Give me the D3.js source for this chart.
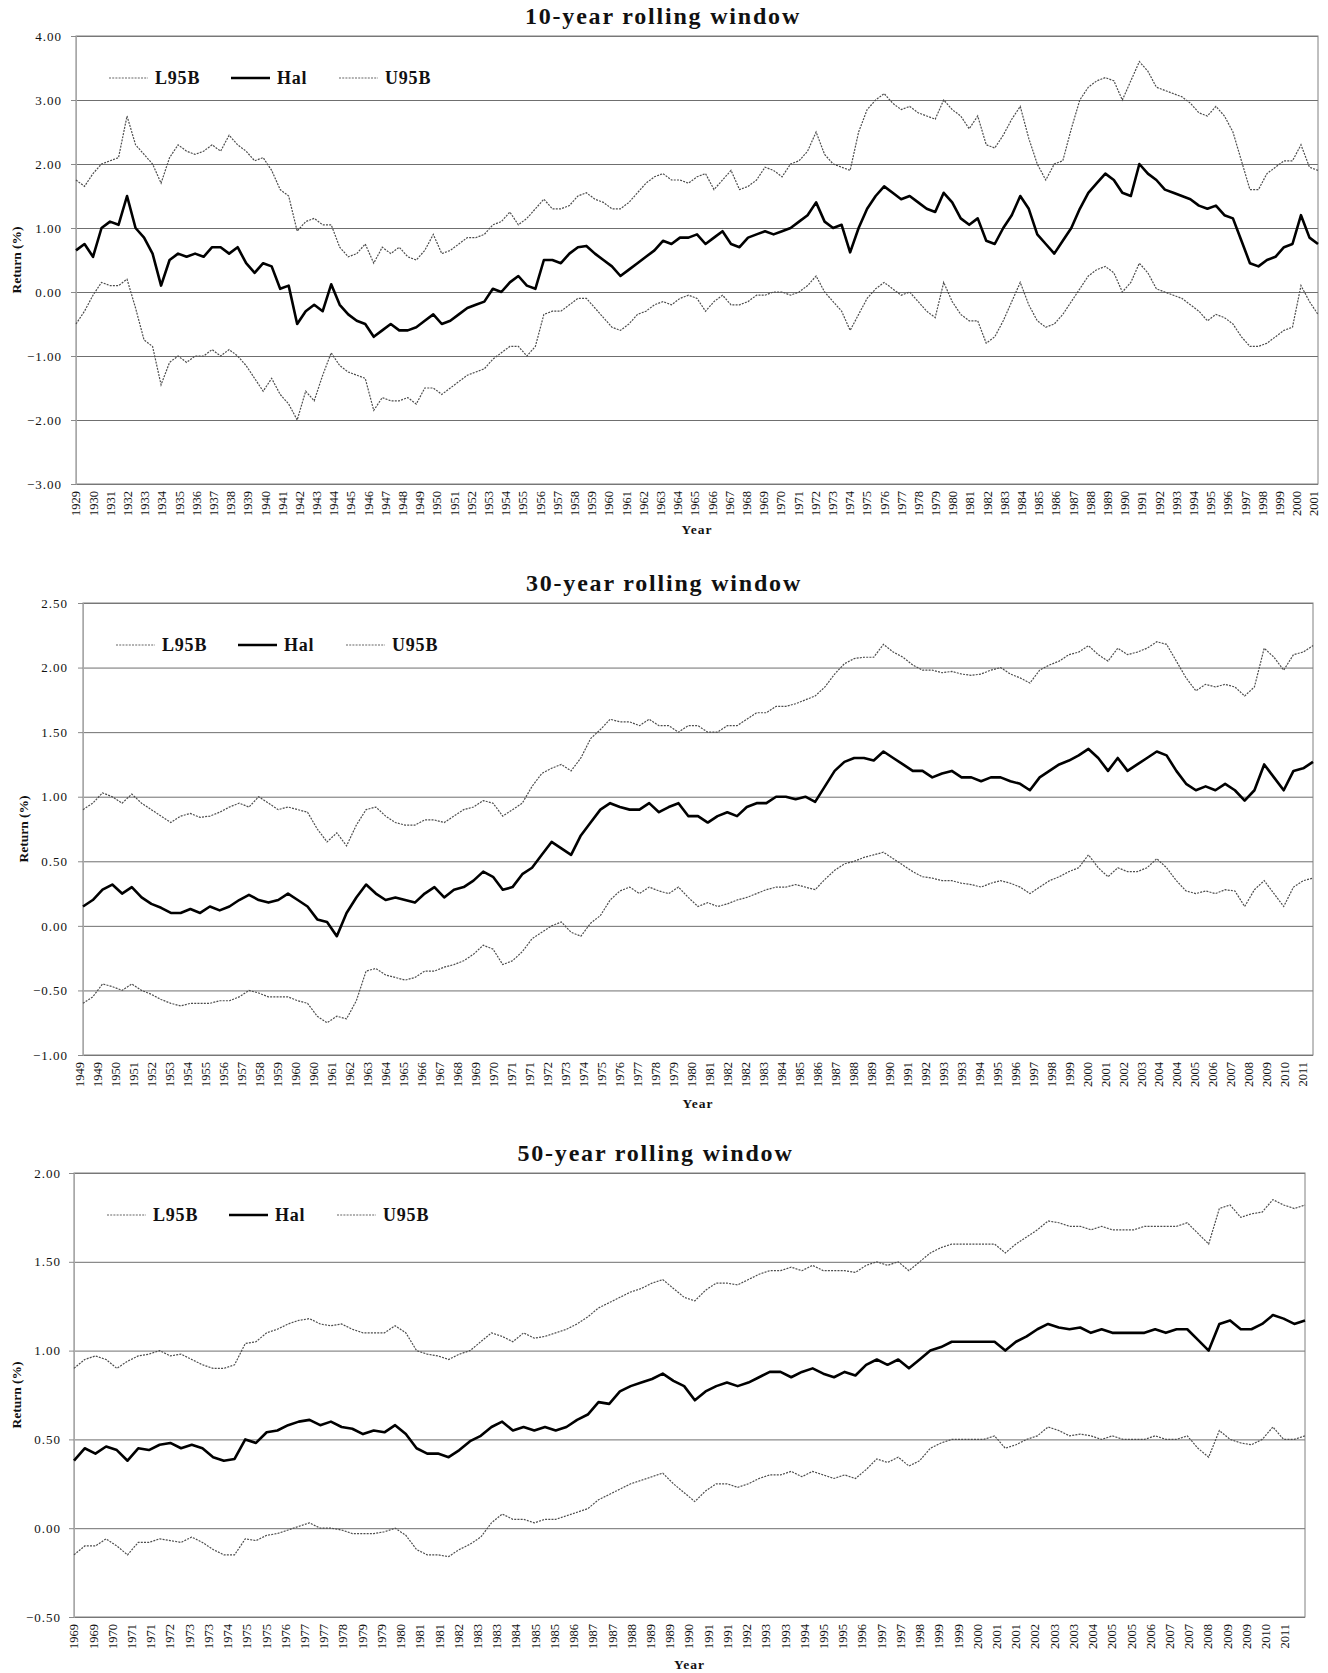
<!DOCTYPE html>
<html>
<head>
<meta charset="utf-8">
<script src="https://cdn.jsdelivr.net/npm/d3@7"></script>
<style>
  body { margin: 0; background: #fff; }
  svg { display: block; }
  text { font-family: "Liberation Serif", "Times New Roman", serif; fill: #111; }
</style>
</head>
<body>
<div id="chart"></div>
<script>
//----------------------------DATA------------------------------//
const p1Labels = ["1929","1930","1931","1932","1933","1934","1935","1936","1937","1938",
  "1939","1940","1941","1942","1943","1944","1945","1946","1947","1948","1949","1950",
  "1951","1952","1953","1954","1955","1956","1957","1958","1959","1960","1961","1962",
  "1963","1964","1965","1966","1967","1968","1969","1970","1971","1972","1973","1974",
  "1975","1976","1977","1978","1979","1980","1981","1982","1983","1984","1985","1986",
  "1987","1988","1989","1990","1991","1992","1993","1994","1995","1996","1997","1998",
  "1999","2000","2001"];

const p1Hal = [0.65,0.75,0.55,1.0,1.1,1.05,1.5,1.0,0.85,0.6,
  0.1,0.5,0.6,0.55,0.6,0.55,0.7,0.7,0.6,0.7,
  0.45,0.3,0.45,0.4,0.05,0.1,-0.5,-0.3,-0.2,-0.3,
  0.12,-0.2,-0.35,-0.45,-0.5,-0.7,-0.6,-0.5,-0.6,-0.6,
  -0.55,-0.45,-0.35,-0.5,-0.45,-0.35,-0.25,-0.2,-0.15,0.05,
  0.0,0.15,0.25,0.1,0.05,0.5,0.5,0.45,0.6,0.7,
  0.72,0.6,0.5,0.4,0.25,0.35,0.45,0.55,0.65,0.8,
  0.75,0.85,0.85,0.9,0.75,0.85,0.95,0.75,0.7,0.85,
  0.9,0.95,0.9,0.95,1.0,1.1,1.2,1.4,1.1,1.0,
  1.05,0.62,1.0,1.3,1.5,1.65,1.55,1.45,1.5,1.4,
  1.3,1.25,1.55,1.4,1.15,1.05,1.15,0.8,0.75,1.0,
  1.2,1.5,1.3,0.9,0.75,0.6,0.8,1.0,1.3,1.55,
  1.7,1.85,1.75,1.55,1.5,2.0,1.85,1.75,1.6,1.55,
  1.5,1.45,1.35,1.3,1.35,1.2,1.15,0.8,0.45,0.4,
  0.5,0.55,0.7,0.75,1.2,0.85,0.75];

const p1U95 = [1.75,1.65,1.85,2.0,2.05,2.1,2.75,2.3,2.15,2.0,
  1.7,2.1,2.3,2.2,2.15,2.2,2.3,2.2,2.45,2.3,
  2.2,2.05,2.1,1.9,1.6,1.5,0.95,1.1,1.15,1.05,
  1.05,0.7,0.55,0.6,0.75,0.45,0.7,0.6,0.7,0.55,
  0.5,0.65,0.9,0.6,0.65,0.75,0.85,0.85,0.9,1.05,
  1.1,1.25,1.05,1.15,1.3,1.45,1.3,1.3,1.35,1.5,
  1.55,1.45,1.4,1.3,1.3,1.4,1.55,1.7,1.8,1.85,
  1.75,1.75,1.7,1.8,1.85,1.6,1.75,1.9,1.6,1.65,
  1.75,1.95,1.9,1.8,2.0,2.05,2.2,2.5,2.15,2.0,
  1.95,1.9,2.5,2.85,3.0,3.1,2.95,2.85,2.9,2.8,
  2.75,2.7,3.0,2.85,2.75,2.55,2.75,2.3,2.25,2.45,
  2.7,2.9,2.4,2.0,1.75,2.0,2.05,2.55,3.0,3.2,
  3.3,3.35,3.3,3.0,3.3,3.6,3.45,3.2,3.15,3.1,
  3.05,2.95,2.8,2.75,2.9,2.75,2.5,2.05,1.6,1.6,
  1.85,1.95,2.05,2.05,2.3,1.95,1.9];

const p1L95 = [-0.5,-0.3,-0.05,0.15,0.1,0.1,0.2,-0.25,-0.75,-0.85,
  -1.45,-1.1,-1.0,-1.1,-1.0,-1.0,-0.9,-1.0,-0.9,-1.0,
  -1.15,-1.35,-1.55,-1.35,-1.6,-1.75,-2.0,-1.55,-1.7,-1.3,
  -0.95,-1.15,-1.25,-1.3,-1.35,-1.85,-1.65,-1.7,-1.7,-1.65,
  -1.75,-1.5,-1.5,-1.6,-1.5,-1.4,-1.3,-1.25,-1.2,-1.05,
  -0.95,-0.85,-0.85,-1.0,-0.85,-0.35,-0.3,-0.3,-0.2,-0.1,
  -0.1,-0.25,-0.4,-0.55,-0.6,-0.5,-0.35,-0.3,-0.2,-0.15,
  -0.2,-0.1,-0.05,-0.1,-0.3,-0.15,-0.05,-0.2,-0.2,-0.15,
  -0.05,-0.05,0.0,0.0,-0.05,0.0,0.1,0.25,0.0,-0.15,
  -0.3,-0.6,-0.35,-0.1,0.05,0.15,0.05,-0.05,0.0,-0.15,
  -0.3,-0.4,0.15,-0.15,-0.35,-0.45,-0.45,-0.8,-0.7,-0.45,
  -0.15,0.15,-0.2,-0.45,-0.55,-0.5,-0.35,-0.15,0.05,0.25,
  0.35,0.4,0.3,0.0,0.15,0.45,0.3,0.05,0.0,-0.05,
  -0.1,-0.2,-0.3,-0.45,-0.35,-0.4,-0.5,-0.7,-0.85,-0.85,
  -0.8,-0.7,-0.6,-0.55,0.1,-0.15,-0.35];

const p2Labels = ["1949","1949","1950","1951","1952","1953","1954","1955","1956","1957",
  "1958","1959","1960","1960","1961","1962","1963","1964","1965","1966","1967","1968",
  "1969","1970","1971","1971","1972","1973","1974","1975","1976","1977","1978","1979",
  "1980","1981","1982","1982","1983","1984","1985","1986","1987","1988","1989","1990",
  "1991","1992","1993","1993","1994","1995","1996","1997","1998","1999","2000","2001",
  "2002","2003","2004","2004","2005","2006","2007","2008","2009","2010","2011"];

const p2Hal = [0.15,0.2,0.28,0.32,0.25,0.3,0.22,0.17,0.14,0.1,
  0.1,0.13,0.1,0.15,0.12,0.15,0.2,0.24,0.2,0.18,
  0.2,0.25,0.2,0.15,0.05,0.03,-0.08,0.1,0.22,0.32,
  0.25,0.2,0.22,0.2,0.18,0.25,0.3,0.22,0.28,0.3,
  0.35,0.42,0.38,0.28,0.3,0.4,0.45,0.55,0.65,0.6,
  0.55,0.7,0.8,0.9,0.95,0.92,0.9,0.9,0.95,0.88,
  0.92,0.95,0.85,0.85,0.8,0.85,0.88,0.85,0.92,0.95,
  0.95,1.0,1.0,0.98,1.0,0.96,1.08,1.2,1.27,1.3,
  1.3,1.28,1.35,1.3,1.25,1.2,1.2,1.15,1.18,1.2,
  1.15,1.15,1.12,1.15,1.15,1.12,1.1,1.05,1.15,1.2,
  1.25,1.28,1.32,1.37,1.3,1.2,1.3,1.2,1.25,1.3,
  1.35,1.32,1.2,1.1,1.05,1.08,1.05,1.1,1.05,0.97,
  1.05,1.25,1.15,1.05,1.2,1.22,1.27];

const p2U95 = [0.9,0.95,1.03,1.0,0.95,1.02,0.95,0.9,0.85,0.8,
  0.85,0.87,0.84,0.85,0.88,0.92,0.95,0.92,1.0,0.95,
  0.9,0.92,0.9,0.88,0.75,0.65,0.72,0.62,0.78,0.9,
  0.92,0.85,0.8,0.78,0.78,0.82,0.82,0.8,0.85,0.9,
  0.92,0.97,0.95,0.85,0.9,0.95,1.08,1.18,1.22,1.25,
  1.2,1.3,1.45,1.52,1.6,1.58,1.58,1.55,1.6,1.55,
  1.55,1.5,1.55,1.55,1.5,1.5,1.55,1.55,1.6,1.65,
  1.65,1.7,1.7,1.72,1.75,1.78,1.85,1.95,2.03,2.07,
  2.08,2.08,2.18,2.12,2.08,2.02,1.98,1.98,1.96,1.97,
  1.95,1.94,1.95,1.98,2.0,1.95,1.92,1.88,1.98,2.02,
  2.05,2.1,2.12,2.17,2.1,2.05,2.15,2.1,2.12,2.15,
  2.2,2.18,2.05,1.92,1.82,1.87,1.85,1.87,1.85,1.78,
  1.85,2.15,2.08,1.98,2.1,2.12,2.17];

const p2L95 = [-0.6,-0.55,-0.45,-0.47,-0.5,-0.45,-0.5,-0.53,-0.57,-0.6,
  -0.62,-0.6,-0.6,-0.6,-0.58,-0.58,-0.55,-0.5,-0.52,-0.55,
  -0.55,-0.55,-0.58,-0.6,-0.7,-0.75,-0.7,-0.72,-0.58,-0.35,
  -0.33,-0.38,-0.4,-0.42,-0.4,-0.35,-0.35,-0.32,-0.3,-0.27,
  -0.22,-0.15,-0.18,-0.3,-0.27,-0.2,-0.1,-0.05,0.0,0.03,
  -0.05,-0.08,0.02,0.08,0.2,0.27,0.3,0.25,0.3,0.27,
  0.25,0.3,0.22,0.15,0.18,0.15,0.17,0.2,0.22,0.25,
  0.28,0.3,0.3,0.32,0.3,0.28,0.36,0.43,0.48,0.5,
  0.53,0.55,0.57,0.52,0.47,0.42,0.38,0.37,0.35,0.35,
  0.33,0.32,0.3,0.33,0.35,0.33,0.3,0.25,0.3,0.35,
  0.38,0.42,0.45,0.55,0.45,0.38,0.45,0.42,0.42,0.45,
  0.52,0.45,0.35,0.27,0.25,0.27,0.25,0.28,0.27,0.15,
  0.28,0.35,0.25,0.15,0.3,0.35,0.37];

const p3Labels = ["1969","1969","1970","1971","1971","1972","1973","1973","1974","1975",
  "1975","1976","1977","1977","1978","1979","1979","1980","1981","1981","1982","1983",
  "1983","1984","1985","1985","1986","1987","1987","1988","1989","1989","1990","1991",
  "1991","1992","1993","1993","1994","1995","1995","1996","1997","1997","1998","1999",
  "1999","2000","2001","2001","2002","2003","2003","2004","2005","2005","2006","2007",
  "2007","2008","2009","2009","2010","2011"];

const p3Hal = [0.38,0.45,0.42,0.46,0.44,0.38,0.45,0.44,0.47,0.48,
  0.45,0.47,0.45,0.4,0.38,0.39,0.5,0.48,0.54,0.55,
  0.58,0.6,0.61,0.58,0.6,0.57,0.56,0.53,0.55,0.54,
  0.58,0.53,0.45,0.42,0.42,0.4,0.44,0.49,0.52,0.57,
  0.6,0.55,0.57,0.55,0.57,0.55,0.57,0.61,0.64,0.71,
  0.7,0.77,0.8,0.82,0.84,0.87,0.83,0.8,0.72,0.77,
  0.8,0.82,0.8,0.82,0.85,0.88,0.88,0.85,0.88,0.9,
  0.87,0.85,0.88,0.86,0.92,0.95,0.92,0.95,0.9,0.95,
  1.0,1.02,1.05,1.05,1.05,1.05,1.05,1.0,1.05,1.08,
  1.12,1.15,1.13,1.12,1.13,1.1,1.12,1.1,1.1,1.1,
  1.1,1.12,1.1,1.12,1.12,1.06,1.0,1.15,1.17,1.12,
  1.12,1.15,1.2,1.18,1.15,1.17];

const p3U95 = [0.9,0.95,0.97,0.95,0.9,0.94,0.97,0.98,1.0,0.97,
  0.98,0.95,0.92,0.9,0.9,0.92,1.04,1.05,1.1,1.12,
  1.15,1.17,1.18,1.15,1.14,1.15,1.12,1.1,1.1,1.1,
  1.14,1.1,1.0,0.98,0.97,0.95,0.98,1.0,1.05,1.1,
  1.08,1.05,1.1,1.07,1.08,1.1,1.12,1.15,1.19,1.24,
  1.27,1.3,1.33,1.35,1.38,1.4,1.35,1.3,1.28,1.34,
  1.38,1.38,1.37,1.4,1.43,1.45,1.45,1.47,1.45,1.48,
  1.45,1.45,1.45,1.44,1.48,1.5,1.48,1.5,1.45,1.5,
  1.55,1.58,1.6,1.6,1.6,1.6,1.6,1.55,1.6,1.64,
  1.68,1.73,1.72,1.7,1.7,1.68,1.7,1.68,1.68,1.68,
  1.7,1.7,1.7,1.7,1.72,1.66,1.6,1.8,1.82,1.75,
  1.77,1.78,1.85,1.82,1.8,1.82];

const p3L95 = [-0.15,-0.1,-0.1,-0.06,-0.1,-0.15,-0.08,-0.08,-0.06,-0.07,
  -0.08,-0.05,-0.08,-0.12,-0.15,-0.15,-0.06,-0.07,-0.04,-0.03,
  -0.01,0.01,0.03,0.0,0.0,-0.01,-0.03,-0.03,-0.03,-0.02,
  0.0,-0.04,-0.12,-0.15,-0.15,-0.16,-0.12,-0.09,-0.05,0.03,
  0.08,0.05,0.05,0.03,0.05,0.05,0.07,0.09,0.11,0.16,
  0.19,0.22,0.25,0.27,0.29,0.31,0.25,0.2,0.15,0.21,
  0.25,0.25,0.23,0.25,0.28,0.3,0.3,0.32,0.29,0.32,
  0.3,0.28,0.3,0.28,0.33,0.39,0.37,0.4,0.35,0.38,
  0.45,0.48,0.5,0.5,0.5,0.5,0.52,0.45,0.47,0.5,
  0.52,0.57,0.55,0.52,0.53,0.52,0.5,0.52,0.5,0.5,
  0.5,0.52,0.5,0.5,0.52,0.45,0.4,0.55,0.5,0.48,
  0.47,0.5,0.57,0.5,0.5,0.52];

const p1Ticks = [4, 3, 2, 1, 0, -1, -2, -3];
const p2Ticks = [2.5, 2, 1.5, 1, 0.5, 0, -0.5, -1];
const p3Ticks = [2, 1.5, 1, 0.5, 0, -0.5];

const seriesNames = ["L95B", "Hal", "U95B"];

//----------------------------SVG-------------------------------//
const W = 1328, H = 1673;
const svg = d3.select("#chart").append("svg")
    .attr("width", W)
    .attr("height", H);

const fmt = d3.format(".2f");

function drawPanel(cfg) {
    const w = cfg.right - cfg.left;
    const h = cfg.bottom - cfg.top;
    const g = svg.append("g");

    const y = d3.scaleLinear()
        .domain([d3.min(cfg.ticks), d3.max(cfg.ticks)])
        .range([cfg.bottom, cfg.top]);
    const x = d3.scaleLinear()
        .domain([0, cfg.hal.length - 1])
        .range([cfg.left, cfg.right]);
    const xl = d3.scalePoint()
        .domain(d3.range(cfg.labels.length))
        .range([cfg.left + cfg.labOff[0], cfg.right + cfg.labOff[1]]);

    //---grid
    g.append("g")
        .attr("transform", "translate(" + cfg.left + ",0)")
        .call(d3.axisLeft(y).tickValues(cfg.ticks).tickSize(-w).tickFormat(""))
        .call(s => s.select(".domain").remove())
        .selectAll("line").attr("stroke", "#6f6f6f");

    //---frame
    g.append("rect")
        .attr("x", cfg.left).attr("y", cfg.top)
        .attr("width", w).attr("height", h)
        .attr("fill", "none").attr("stroke", "#808080");

    //---y axis
    const ya = g.append("g")
        .attr("transform", "translate(" + cfg.left + ",0)")
        .call(d3.axisLeft(y).tickValues(cfg.ticks).tickSize(5).tickPadding(cfg.pad).tickFormat(fmt));
    ya.select(".domain").attr("stroke", "#a8a8a8");
    ya.selectAll("line").attr("stroke", "#8a8a8a");
    ya.selectAll("text")
        .style("font-family", "'Liberation Serif', serif")
        .style("font-size", "13px")
        .style("letter-spacing", "1px")
        .attr("fill", "#222");

    //---x labels
    g.selectAll(".xl")
        .data(cfg.labels)
        .enter()
        .append("text")
        .attr("class", "xl")
        .attr("transform", (d, i) => "translate(" + xl(i) + "," + (cfg.bottom + 7) + ") rotate(-90)")
        .attr("dy", "0.35em")
        .style("text-anchor", "end")
        .style("font-size", "12.5px")
        .text(d => d);

    //---lines
    const line = d3.line()
        .x((d, i) => x(i))
        .y(d => y(d));

    [cfg.l95, cfg.u95].forEach(function (s) {
        g.append("path")
            .datum(s)
            .attr("d", line)
            .attr("fill", "none")
            .attr("stroke", "#4d4d4d")
            .attr("stroke-width", 1.2)
            .attr("stroke-dasharray", "2,1.2");
    });
    g.append("path")
        .datum(cfg.hal)
        .attr("d", line)
        .attr("fill", "none")
        .attr("stroke", "#000")
        .attr("stroke-width", 2.6)
        .attr("stroke-linejoin", "round");

    //---legend
    const lx = cfg.left + 33, ly = cfg.top + 42;
    seriesNames.forEach(function (name, i) {
        const ox = lx + [0, 122, 230][i];
        g.append("line")
            .attr("x1", ox).attr("x2", ox + 39)
            .attr("y1", ly).attr("y2", ly)
            .attr("stroke", name == "Hal" ? "#000" : "#666")
            .attr("stroke-width", name == "Hal" ? 2.6 : 1.2)
            .attr("stroke-dasharray", name == "Hal" ? null : "2,1.2");
        g.append("text")
            .attr("x", ox + 46).attr("y", ly + 6)
            .style("font-size", "18px")
            .style("font-weight", "bold")
            .style("letter-spacing", "0.8px")
            .text(name);
    });

    //---titles
    g.append("text")
        .attr("x", (cfg.left + cfg.right) / 2 - 34)
        .attr("y", cfg.top - 12)
        .style("text-anchor", "middle")
        .style("font-size", "24px")
        .style("font-weight", "bold")
        .style("letter-spacing", "1.8px")
        .text(cfg.title);

    g.append("text")
        .attr("transform", "translate(" + cfg.ylabX + "," + (cfg.top + h / 2) + ") rotate(-90)")
        .attr("dy", "0.35em")
        .style("text-anchor", "middle")
        .style("font-size", "13.5px")
        .style("font-weight", "bold")
        .text("Return (%)");

    g.append("text")
        .attr("x", (cfg.left + cfg.right) / 2)
        .attr("y", cfg.xlabY)
        .style("text-anchor", "middle")
        .style("font-size", "13.5px")
        .style("font-weight", "bold")
        .style("letter-spacing", "1px")
        .text("Year");
}

drawPanel({ title: "10-year rolling window", left: 76, right: 1318, top: 36, bottom: 484,
    ticks: p1Ticks, labels: p1Labels, labOff: [0, -4], pad: 9,
    hal: p1Hal, u95: p1U95, l95: p1L95, ylabX: 16, xlabY: 534 });

drawPanel({ title: "30-year rolling window", left: 83, right: 1313, top: 603, bottom: 1055,
    ticks: p2Ticks, labels: p2Labels, labOff: [-3, -10], pad: 10,
    hal: p2Hal, u95: p2U95, l95: p2L95, ylabX: 23, xlabY: 1108 });

drawPanel({ title: "50-year rolling window", left: 74, right: 1305, top: 1173, bottom: 1617,
    ticks: p3Ticks, labels: p3Labels, labOff: [0, -20], pad: 8,
    hal: p3Hal, u95: p3U95, l95: p3L95, ylabX: 16, xlabY: 1669 });
</script>
</body>
</html>
